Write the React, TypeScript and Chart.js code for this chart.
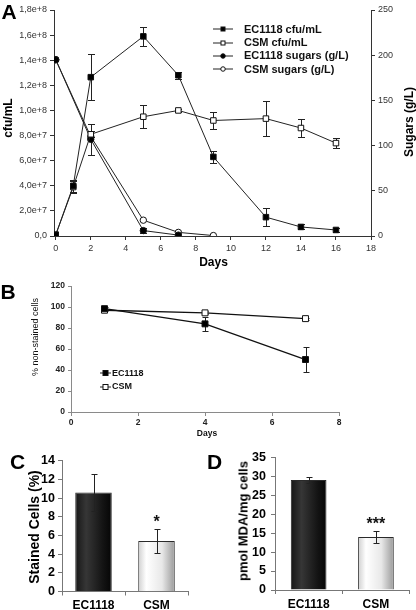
import React, { useEffect, useRef } from "react";
import { Chart, registerables } from "chart.js";
Chart.register(...registerables);

const FONT = "'Liberation Sans', Arial, Helvetica, sans-serif";

// ---------- Panel A data ----------
const daysCfu = [0, 1, 2, 5, 7, 9, 12, 14, 16];
const ec1118Cfu = [0.1e7, 4.0e7, 12.65e7, 15.9e7, 12.8e7, 6.3e7, 1.5e7, 0.72e7, 0.48e7];
const ec1118CfuErr = [0, 0.5e7, 1.85e7, 0.75e7, 0.3e7, 0.5e7, 0.7e7, 0.2e7, 0.15e7];
const csmCfu = [0.1e7, 3.9e7, 8.1e7, 9.5e7, 10.0e7, 9.2e7, 9.35e7, 8.6e7, 7.4e7];
const csmCfuErr = [0, 0.45e7, 0.25e7, 0.9e7, 0.1e7, 0.7e7, 1.4e7, 0.75e7, 0.4e7];
const daysSugarEc = [0, 2, 5, 7];
const ec1118Sugar = [195, 107, 6, 1];
const ec1118SugarErr = [0, 17, 3, 0];
const daysSugarCsm = [0, 2, 5, 7, 9];
const csmSugar = [195, 110, 17.5, 4, 0.5];
const csmSugarErr = [0, 0, 0, 0, 0];
const legendA = ["EC1118 cfu/mL", "CSM cfu/mL", "EC1118 sugars (g/L)", "CSM sugars (g/L)"];

// ---------- Panel B data ----------
const daysB = [1, 4, 7];
const ec1118NonStained = [98.5, 84, 50];
const ec1118NonStainedErr = [1.5, 6.5, 12];
const csmNonStained = [97, 94.5, 89];
const csmNonStainedErr = [1, 1.5, 1];
const legendB = ["EC1118", "CSM"];

// ---------- Panel C / D data ----------
const strains = ["EC1118", "CSM"];
const stainedCells = [10.6, 5.4];
const stainedCellsErr = [2.0, 1.3];
const stainedMarks = ["", "*"];
const mdaValues = [29.0, 14.0];
const mdaErr = [0.75, 1.6];
const mdaMarks = ["", "***"];

const toXY = (xs: number[], ys: number[]) => xs.map((x, i) => ({ x, y: ys[i] }));

const makeErrorBars = (cap: number, after: boolean) => {
  const draw = (chart: any) => {
    const ctx = chart.ctx;
    chart.data.datasets.forEach((ds: any, di: number) => {
      if (!ds.errors) return;
      const meta = chart.getDatasetMeta(di);
      const ys = chart.scales[meta.yAxisID];
      ctx.save();
      ctx.strokeStyle = "#222";
      ctx.lineWidth = 1;
      meta.data.forEach((el: any, i: number) => {
        const e = ds.errors[i];
        if (!e) return;
        const raw = ds.data[i];
        const v = typeof raw === "object" ? raw.y : raw;
        const x = Math.round(el.x) + 0.5;
        const yt = Math.round(ys.getPixelForValue(v + e)) + 0.5;
        const yb = Math.round(ys.getPixelForValue(Math.max(v - e, ys.min))) + 0.5;
        ctx.beginPath();
        ctx.moveTo(x, yt);
        ctx.lineTo(x, yb);
        ctx.moveTo(x - cap, yt);
        ctx.lineTo(x + cap, yt);
        ctx.moveTo(x - cap, yb);
        ctx.lineTo(x + cap, yb);
        ctx.stroke();
      });
      ctx.restore();
    });
  };
  return after ? { id: "errbarsAfter", afterDatasetsDraw: draw } : { id: "errbarsBefore", beforeDatasetsDraw: draw };
};

const sigPlugin = {
  id: "sig",
  afterDatasetsDraw(chart: any) {
    const ds: any = chart.data.datasets[0];
    const meta = chart.getDatasetMeta(0);
    const ys = chart.scales.y;
    const ctx = chart.ctx;
    ctx.save();
    ctx.font = `bold 16px ${FONT}`;
    ctx.fillStyle = "#111";
    ctx.textAlign = "center";
    ctx.textBaseline = "middle";
    meta.data.forEach((el: any, i: number) => {
      const m = ds.marks && ds.marks[i];
      if (!m) return;
      ctx.fillText(m, el.x, ys.getPixelForValue(ds.data[i] + ds.errors[i]) - 6);
    });
    ctx.restore();
  },
};

const barStops: [number, string][][] = [
  [[0, "#161616"], [0.3, "#363636"], [0.75, "#141414"], [1, "#050505"]],
  [[0, "#cfcfcf"], [0.22, "#ffffff"], [0.65, "#e8e8e8"], [1, "#9a9a9a"]],
];

const barGradient = (c: any) => {
  const chart = c.chart;
  const xs = chart.scales && chart.scales.x;
  const i = c.dataIndex;
  if (!xs || i === undefined) return "#888";
  const ds = chart.data.datasets[c.datasetIndex];
  const cx = xs.getPixelForValue(i);
  const w = (xs.width / chart.data.labels.length) * ds.barPercentage;
  if (!isFinite(cx) || !(w > 0)) return "#888";
  const g = chart.ctx.createLinearGradient(cx - w / 2, 0, cx + w / 2, 0);
  barStops[i].forEach(([o, col]) => g.addColorStop(o, col));
  return g;
};

const axisCommon = (color: string, tickLen: number) => ({
  grid: { drawOnChartArea: false, drawTicks: true, tickLength: tickLen, color },
  border: { display: true, color, width: 1 },
});

const sciFmt = (v: number) => {
  if (v === 0) return "0,0";
  const e = Math.floor(Math.log10(v) + 1e-9);
  const m = v / Math.pow(10, e);
  return m.toFixed(1).replace(".", ",") + "e+" + e;
};

function configA(): any {
  const tickFont = { family: FONT, size: 9 };
  const line = (label: string, xs: number[], ys: number[], err: number[], axis: string, style: string, filled: boolean, r: number) => ({
    label,
    data: toXY(xs, ys),
    errors: err,
    yAxisID: axis,
    borderColor: "#222",
    borderWidth: 1,
    pointStyle: style,
    pointRadius: r,
    pointBackgroundColor: filled ? "#000" : "#fff",
    pointBorderColor: "#111",
    pointBorderWidth: 1,
    tension: 0,
  });
  return {
    type: "line",
    data: {
      datasets: [
        line(legendA[0], daysCfu, ec1118Cfu, ec1118CfuErr, "y", "rect", true, 3.9),
        line(legendA[1], daysCfu, csmCfu, csmCfuErr, "y", "rect", false, 3.9),
        line(legendA[2], daysSugarEc, ec1118Sugar, ec1118SugarErr, "y1", "circle", true, 3.2),
        line(legendA[3], daysSugarCsm, csmSugar, csmSugarErr, "y1", "circle", false, 3.2),
      ],
    },
    plugins: [makeErrorBars(3.5, false)],
    options: {
      responsive: false,
      animation: false,
      layout: { padding: { top: 10, left: 0, right: 0, bottom: 0 } },
      plugins: { legend: { display: false }, tooltip: { enabled: false } },
      scales: {
        x: {
          type: "linear",
          min: -0.1,
          max: 18,
          ticks: { stepSize: 2, includeBounds: false, font: tickFont, color: "#333", padding: 3, maxRotation: 0 },
          ...axisCommon("#333", 4),
          afterFit: (s: any) => { s.height = 42; },
        },
        y: {
          position: "left",
          min: 0,
          max: 1.8e8,
          ticks: { stepSize: 2e7, font: tickFont, color: "#333", padding: 3, callback: (v: number) => sciFmt(v) },
          ...axisCommon("#333", 4),
          afterFit: (s: any) => { s.width = 54; },
        },
        y1: {
          position: "right",
          min: 0,
          max: 250,
          ticks: { stepSize: 50, font: tickFont, color: "#333", padding: 3 },
          ...axisCommon("#333", 4),
          afterFit: (s: any) => { s.width = 45; },
        },
      },
    },
  };
}

function configB(): any {
  const tickFont = { family: FONT, size: 8.5, weight: "bold" };
  const line = (label: string, ys: number[], err: number[], filled: boolean) => ({
    label,
    data: toXY(daysB, ys),
    errors: err,
    borderColor: "#111",
    borderWidth: 1.3,
    pointStyle: "rect",
    pointRadius: 4.2,
    pointBackgroundColor: filled ? "#000" : "#fff",
    pointBorderColor: "#111",
    pointBorderWidth: 1,
    tension: 0,
  });
  return {
    type: "line",
    data: { datasets: [line(legendB[0], ec1118NonStained, ec1118NonStainedErr, true), line(legendB[1], csmNonStained, csmNonStainedErr, false)] },
    plugins: [makeErrorBars(3, false)],
    options: {
      responsive: false,
      animation: false,
      layout: { padding: { top: 7, left: 0, right: 77, bottom: 0 } },
      plugins: { legend: { display: false }, tooltip: { enabled: false } },
      scales: {
        x: {
          type: "linear",
          min: 0,
          max: 8,
          ticks: { stepSize: 2, font: tickFont, color: "#222", padding: 2, maxRotation: 0 },
          ...axisCommon("#8a8a8a", 4),
          afterFit: (s: any) => { s.height = 28; },
        },
        y: {
          min: 0,
          max: 120,
          ticks: { stepSize: 20, font: tickFont, color: "#222", padding: 3 },
          ...axisCommon("#8a8a8a", 3),
          afterFit: (s: any) => { s.width = 71; },
        },
      },
    },
  };
}

function configBar(values: number[], errs: number[], marks: string[], max: number, step: number, pad: any, yW: number, xH: number, barPct: number, yPad: number): any {
  return {
    type: "bar",
    data: {
      labels: strains,
      datasets: [
        {
          data: values,
          errors: errs,
          marks,
          backgroundColor: barGradient,
          borderColor: "#2a2a2a",
          borderWidth: 1,
          barPercentage: barPct,
          categoryPercentage: 1,
        },
      ],
    },
    plugins: [makeErrorBars(3, true), sigPlugin],
    options: {
      responsive: false,
      animation: false,
      layout: { padding: pad },
      plugins: { legend: { display: false }, tooltip: { enabled: false } },
      scales: {
        x: {
          ticks: { font: { family: FONT, size: 12, weight: "bold" }, color: "#000", padding: 3, maxRotation: 0 },
          grid: { offset: true, drawOnChartArea: false, drawTicks: true, tickLength: 4, color: "#777" },
          border: { display: true, color: "#777" },
          afterFit: (s: any) => { s.height = xH; },
        },
        y: {
          min: 0,
          max,
          ticks: { stepSize: step, font: { family: FONT, size: 12.5, weight: "bold" }, color: "#000", padding: yPad },
          grid: { drawOnChartArea: false, drawTicks: true, tickLength: 4, color: "#777" },
          border: { display: true, color: "#777" },
          afterFit: (s: any) => { s.width = yW; },
        },
      },
    },
  };
}

function ChartBox({ left, top, width, height, make }: any) {
  const ref = useRef<HTMLCanvasElement>(null);
  useEffect(() => {
    const chart = new Chart(ref.current as HTMLCanvasElement, make());
    return () => chart.destroy();
  }, []);
  return <canvas ref={ref} width={width} height={height} style={{ position: "absolute", left, top, width, height }} />;
}

function Txt({ cx, cy, text, size, bold = true, rotate = false, color = "#000" }: any) {
  return (
    <div
      style={{
        position: "absolute",
        left: cx,
        top: cy,
        transform: `translate(-50%, -50%)${rotate ? " rotate(-90deg)" : ""}`,
        font: `${bold ? "bold " : ""}${size}px ${FONT}`,
        color,
        whiteSpace: "nowrap",
        lineHeight: 1,
      }}
    >
      {text}
    </div>
  );
}

function LegendRow({ left, top, label, shape, filled, lineW, marker, gap, size }: any) {
  return (
    <div style={{ position: "absolute", left, top, height: 0, display: "flex", alignItems: "center" }}>
      <svg width={lineW} height={10} style={{ overflow: "visible", flex: "none" }}>
        <line x1={0} y1={5} x2={lineW} y2={5} stroke="#222" strokeWidth={1} />
        {shape === "rect" ? (
          <rect x={lineW / 2 - marker / 2} y={5 - marker / 2} width={marker} height={marker} fill={filled ? "#000" : "#fff"} stroke="#111" strokeWidth={1} />
        ) : (
          <circle cx={lineW / 2} cy={5} r={marker / 2} fill={filled ? "#000" : "#fff"} stroke="#111" strokeWidth={1} />
        )}
      </svg>
      <span style={{ marginLeft: gap, font: `bold ${size}px ${FONT}`, color: "#111", whiteSpace: "nowrap", lineHeight: 1 }}>{label}</span>
    </div>
  );
}

export default function App() {
  return (
    <div style={{ position: "absolute", left: 0, top: 0, width: 416, height: 610, background: "#fff", overflow: "hidden" }}>
      <ChartBox left={0} top={0} width={416} height={278} make={configA} />
      <ChartBox left={0} top={278} width={416} height={162} make={configB} />
      <ChartBox
        left={0}
        top={440}
        width={206}
        height={170}
        make={() => configBar(stainedCells, stainedCellsErr, stainedMarks, 14, 2, { top: 20.7, right: 18, left: 0, bottom: 0 }, 62, 18.5, 0.58, 3)}
      />
      <ChartBox
        left={206}
        top={440}
        width={210}
        height={170}
        make={() => configBar(mdaValues, mdaErr, mdaMarks, 35, 5, { top: 17.3, right: 6.4, left: 0, bottom: 0 }, 69, 20, 0.53, 5)}
      />

      {/* Panel letters */}
      <Txt cx={9} cy={11} text="A" size={21} />
      <Txt cx={8} cy={291} text="B" size={21} />
      <Txt cx={17.5} cy={461} text="C" size={21} />
      <Txt cx={214.5} cy={461} text="D" size={21} />

      {/* Panel A titles & legend */}
      <Txt cx={8} cy={118} text="cfu/mL" size={12} rotate />
      <Txt cx={213.5} cy={262} text="Days" size={12} />
      <Txt cx={408.5} cy={122} text="Sugars (g/L)" size={12} rotate />
      <LegendRow left={213} top={29.3} label={legendA[0]} shape="rect" filled lineW={20} marker={4} gap={11} size={11} />
      <LegendRow left={213} top={42.6} label={legendA[1]} shape="rect" filled={false} lineW={20} marker={4} gap={11} size={11} />
      <LegendRow left={213} top={55.9} label={legendA[2]} shape="circle" filled lineW={20} marker={4.5} gap={11} size={11} />
      <LegendRow left={213} top={69.2} label={legendA[3]} shape="circle" filled={false} lineW={20} marker={4.5} gap={11} size={11} />

      {/* Panel B titles & legend */}
      <Txt cx={35} cy={337} text="% non-stained cells" size={9} bold={false} rotate color="#111" />
      <Txt cx={207} cy={432.7} text="Days" size={8.5} color="#111" />
      <LegendRow left={100} top={373.3} label={legendB[0]} shape="rect" filled lineW={11} marker={5} gap={1} size={9} />
      <LegendRow left={100} top={386.7} label={legendB[1]} shape="rect" filled={false} lineW={11} marker={5} gap={1} size={9} />

      {/* Panel C / D titles */}
      <Txt cx={34} cy={527} text="Stained Cells (%)" size={14} rotate />
      <Txt cx={243} cy={521} text="pmol MDA/mg cells" size={13} rotate />
    </div>
  );
}
